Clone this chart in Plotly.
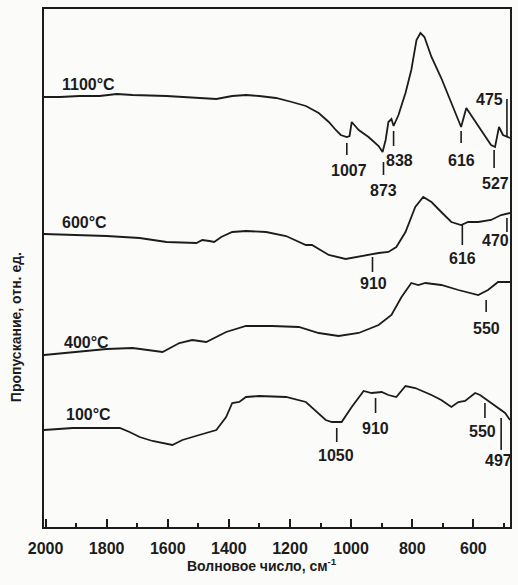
import plotly.graph_objects as go

# ---- data (wavenumber, cm-1 ; transmittance, rel. units) ----
wn_1100 = [2005, 1953, 1888, 1823, 1767, 1715, 1604, 1497, 1441, 1389, 1344, 1301, 1246, 1194,
           1148, 1106, 1073, 1050, 1034, 1014, 1005, 998, 988, 975, 943, 910, 897, 887, 878, 868,
           861, 845, 822, 803, 786, 773, 760, 737, 705, 672, 640, 623, 607, 575, 542, 529, 516,
           503, 480]
t_1100 = [430, 430, 431, 431, 433, 432, 431, 429, 428, 431, 432, 431, 429, 425,
          421, 414, 405, 397, 392, 390, 391, 405, 401, 397, 390, 381, 375, 387, 405, 408,
          401, 412, 434, 457, 487, 494, 490, 470, 449, 425, 400, 419, 412, 397, 382, 380, 400,
          392, 389]

wn_600 = [2005, 1911, 1800, 1692, 1604, 1506, 1487, 1464, 1448, 1425, 1389, 1344, 1278, 1213,
          1148, 1128, 1073, 1018, 966, 910, 878, 852, 822, 790, 764, 737, 705, 672, 640, 617,
          584, 542, 509, 480]
t_600 = [293, 292, 291, 289, 285, 284, 287, 286, 285, 290, 295, 296, 295, 291,
         282, 282, 272, 268, 271, 274, 275, 280, 295, 320, 330, 325, 315, 305, 302, 305,
         305, 307, 312, 314]

wn_400 = [2005, 1911, 1800, 1715, 1617, 1562, 1520, 1474, 1409, 1344, 1259, 1171, 1106, 1041,
          975, 910, 868, 835, 803, 780, 757, 705, 649, 584, 552, 519, 480]
t_400 = [172, 175, 178, 179, 175, 184, 187, 185, 195, 201, 201, 200, 194, 191,
         194, 202, 212, 230, 244, 242, 244, 242, 237, 232, 237, 245, 245]

wn_100 = [2005, 1911, 1757, 1725, 1692, 1650, 1585, 1552, 1497, 1441, 1409, 1389, 1366, 1344,
          1301, 1213, 1148, 1106, 1083, 1063, 1031, 998, 959, 933, 900, 878, 852, 822, 790,
          737, 705, 672, 649, 627, 594, 578, 542, 496, 480]
t_100 = [97, 99, 99, 95, 90, 86, 82, 87, 92, 97, 110, 124, 125, 130,
         131, 130, 125, 114, 107, 105, 105, 120, 136, 134, 135, 132, 130, 141, 139,
         132, 127, 120, 125, 126, 134, 132, 124, 114, 107]

series_names = ["1100°C", "600°C", "400°C", "100°C"]

# curve labels: (text, wavenumber, level)
curve_labels = [("1100°C", 1953, 443), ("600°C", 1953, 305), ("400°C", 1946, 185), ("100°C", 1940, 113)]

# band marks: (text, mark wn, mark y0, mark y1, text wn, text y, anchor)
band_marks = [
    ("1007", 1014, 372, 384, 1008, 357, "center"),
    ("873", 894, 352, 365, 894, 337, "center"),
    ("838", 861, 381, 396, 842, 367, "center"),
    ("616", 640, 384, 396, 640, 367, "center"),
    ("527", 532, 359, 377, 529, 344, "center"),
    ("475", 490, 390, 428, 496, 428, "right"),
    ("910", 930, 255, 270, 927, 244, "center"),
    ("616", 636, 282, 302, 636, 269, "center"),
    ("470", 490, 295, 309, 529, 287, "center"),
    ("550", 558, 215, 227, 558, 199, "center"),
    ("1050", 1047, 85, 99, 1050, 72, "center"),
    ("910", 920, 114, 129, 920, 99, "center"),
    ("550", 562, 109, 124, 571, 96, "center"),
    ("497", 509, 77, 109, 519, 67, "center"),
]

INK = "#1c1c1c"
FONT = "Liberation Sans"

fig = go.Figure()
for name, xs, ys in zip(series_names,
                        [wn_1100, wn_600, wn_400, wn_100],
                        [t_1100, t_600, t_400, t_100]):
    fig.add_trace(go.Scatter(x=xs, y=ys, mode="lines", name=name,
                             line=dict(color=INK, width=1.8), showlegend=False,
                             hoverinfo="skip"))

annotations = []
for txt, xw, yv in curve_labels:
    annotations.append(dict(x=xw, y=yv, xref="x", yref="y", text=txt, showarrow=False,
                            xanchor="left", yanchor="middle",
                            font=dict(family=FONT, size=16, color=INK, weight="bold")))

shapes = []
for txt, mx, y0, y1, tx, ty, anc in band_marks:
    shapes.append(dict(type="line", xref="x", yref="y", x0=mx, x1=mx, y0=y0, y1=y1,
                       line=dict(color=INK, width=1.6)))
    annotations.append(dict(x=tx, y=ty, xref="x", yref="y", text=txt, showarrow=False,
                            xanchor=anc, yanchor="middle",
                            font=dict(family=FONT, size=16, color=INK, weight="bold")))

annotations.append(dict(x=0.468, y=-0.0734, xref="paper", yref="paper",
                        text="Волновое число, см<sup>-1</sup>", showarrow=False,
                        xanchor="center", yanchor="middle",
                        font=dict(family=FONT, size=14, color=INK, weight="bold")))
annotations.append(dict(x=-0.0598, y=0.386, xref="paper", yref="paper",
                        text="Пропускание, отн. ед.", showarrow=False, textangle=-90,
                        xanchor="center", yanchor="middle",
                        font=dict(family=FONT, size=14, color=INK, weight="bold")))

fig.update_layout(
    width=518, height=585,
    margin=dict(l=44, r=6, t=9, b=58),
    paper_bgcolor="#fbfbfa", plot_bgcolor="#fbfbfa",
    annotations=annotations, shapes=shapes,
    xaxis=dict(range=[2005, 480], tickmode="linear", tick0=0, dtick=200,
               ticks="inside", ticklen=8, tickwidth=2, tickcolor=INK,
               minor=dict(ticks="inside", ticklen=4, tickwidth=1.5, tickcolor=INK,
                          tickmode="linear", tick0=0, dtick=100),
               showgrid=False, zeroline=False, showline=True, linecolor=INK, linewidth=2,
               mirror=True, ticklabelstandoff=6,
               tickfont=dict(family=FONT, size=16, color=INK, weight="bold")),
    yaxis=dict(range=[0, 518], showticklabels=False, ticks="", showgrid=False,
               zeroline=False, showline=True, linecolor=INK, linewidth=2, mirror=True),
)

fig.write_html("out.html")
